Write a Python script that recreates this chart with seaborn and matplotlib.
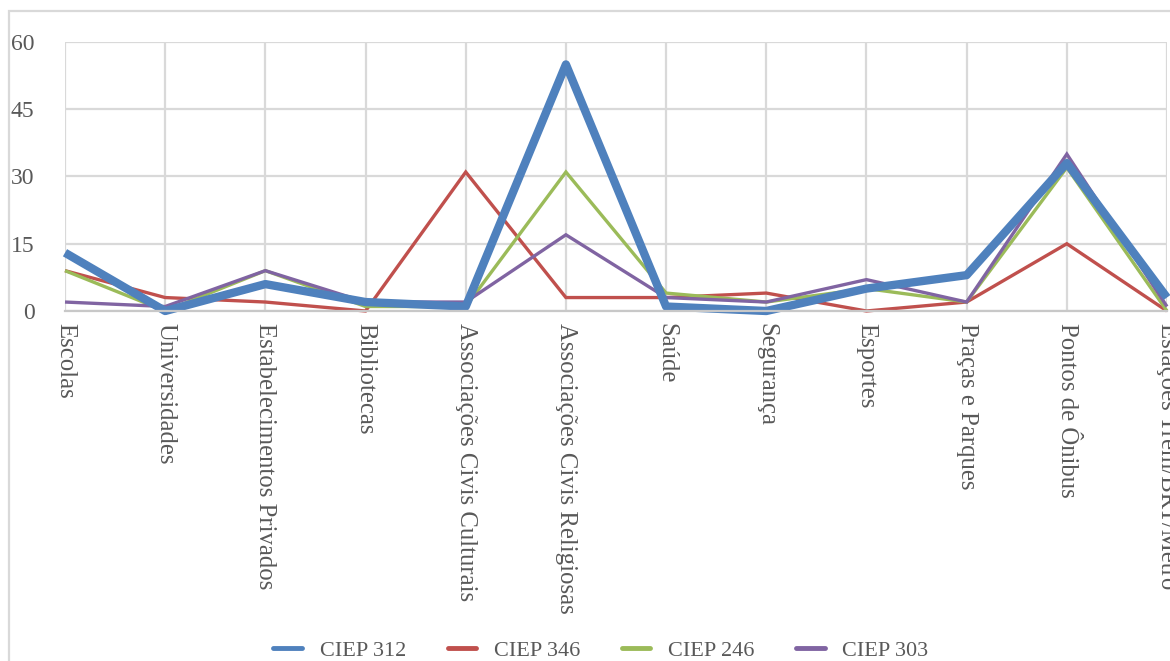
import matplotlib
matplotlib.use("Agg")
import matplotlib.pyplot as plt
from matplotlib.patches import Rectangle
from matplotlib.lines import Line2D
import seaborn as sns
import pandas as pd

categorias = [
    "Escolas", "Universidades", "Estabelecimentos Privados", "Bibliotecas",
    "Associações Civis Culturais", "Associações Civis Religiosas", "Saúde",
    "Segurança", "Esportes", "Praças e Parques", "Pontos de Ônibus",
    "Estações Trem/BRT/Metrô",
]
ciep_312 = [13, 0, 6, 2, 1, 55, 1, 0, 5, 8, 33, 3]
ciep_346 = [9, 3, 2, 0, 31, 3, 3, 4, 0, 2, 15, 0]
ciep_246 = [9, 0, 9, 1, 1, 31, 4, 2, 5, 2, 32, 0]
ciep_303 = [2, 1, 9, 2, 2, 17, 3, 2, 7, 2, 35, 1]
y_ticks = [0, 15, 30, 45, 60]

series = {"CIEP 312": ciep_312, "CIEP 346": ciep_346,
          "CIEP 246": ciep_246, "CIEP 303": ciep_303}
cores = {"CIEP 312": "#4F81BD", "CIEP 346": "#C0504D",
         "CIEP 246": "#9BBB59", "CIEP 303": "#8064A2"}
larguras = {"CIEP 312": 6.0, "CIEP 346": 2.4, "CIEP 246": 2.4, "CIEP 303": 2.4}

df = pd.DataFrame(
    [(nome, i, v) for nome, vals in series.items() for i, v in enumerate(vals)],
    columns=["escola", "pos", "valor"],
)

sns.set_theme(style="white")
plt.rcParams["font.family"] = ["Liberation Serif", "DejaVu Serif"]
texto = "#595959"
grade = "#D9D9D9"

fig = plt.figure(figsize=(11.7, 6.61), dpi=100)
ax = fig.add_axes([65 / 1170, 1 - 311 / 661, (1167 - 65) / 1170, (311 - 42) / 661])

# thin series first, thick blue on top
for nome in ["CIEP 346", "CIEP 246", "CIEP 303", "CIEP 312"]:
    sns.lineplot(data=df[df["escola"] == nome], x="pos", y="valor",
                 color=cores[nome], linewidth=larguras[nome], ax=ax,
                 sort=False, legend=False, clip_on=False,
                 solid_joinstyle="miter" if nome != "CIEP 312" else "round",
                 solid_capstyle="butt")

ax.set_xlim(0, len(categorias) - 1)
ax.set_ylim(0, 60)
ax.set_yticks(y_ticks)
ax.set_xticks(range(len(categorias)))
ax.set_xticklabels(categorias, rotation=-90, ha="center", va="top",
                   fontsize=17.8, color=texto)
ax.set_yticklabels([str(t) for t in y_ticks], fontsize=17, color=texto)
ax.tick_params(axis="x", length=0, pad=9)
ax.tick_params(axis="y", length=0, pad=22)
ax.set_xlabel("")
ax.set_ylabel("")
ax.grid(True, color=grade, linewidth=1.6)
ax.set_axisbelow(True)
for s in ["top", "right", "left"]:
    ax.spines[s].set_visible(False)
ax.spines["bottom"].set_color("#C8C8C8")
ax.spines["bottom"].set_linewidth(1.6)

# chart area border
fig.patches.append(Rectangle((9 / 1170, -0.1), 1.2, 1 - 11 / 661 + 0.1,
                             transform=fig.transFigure, fill=False,
                             edgecolor=grade, linewidth=1.6))

handles = [Line2D([0], [0], color=cores[n], linewidth=3.5) for n in series]
fig.legend(handles, list(series.keys()), loc="center",
           bbox_to_anchor=(601 / 1170, 1 - 651 / 661), ncol=4, frameon=False,
           fontsize=16, labelcolor=texto, handlelength=1.3,
           handletextpad=0.8, columnspacing=1.85)

fig.savefig("out.png", dpi=100)
